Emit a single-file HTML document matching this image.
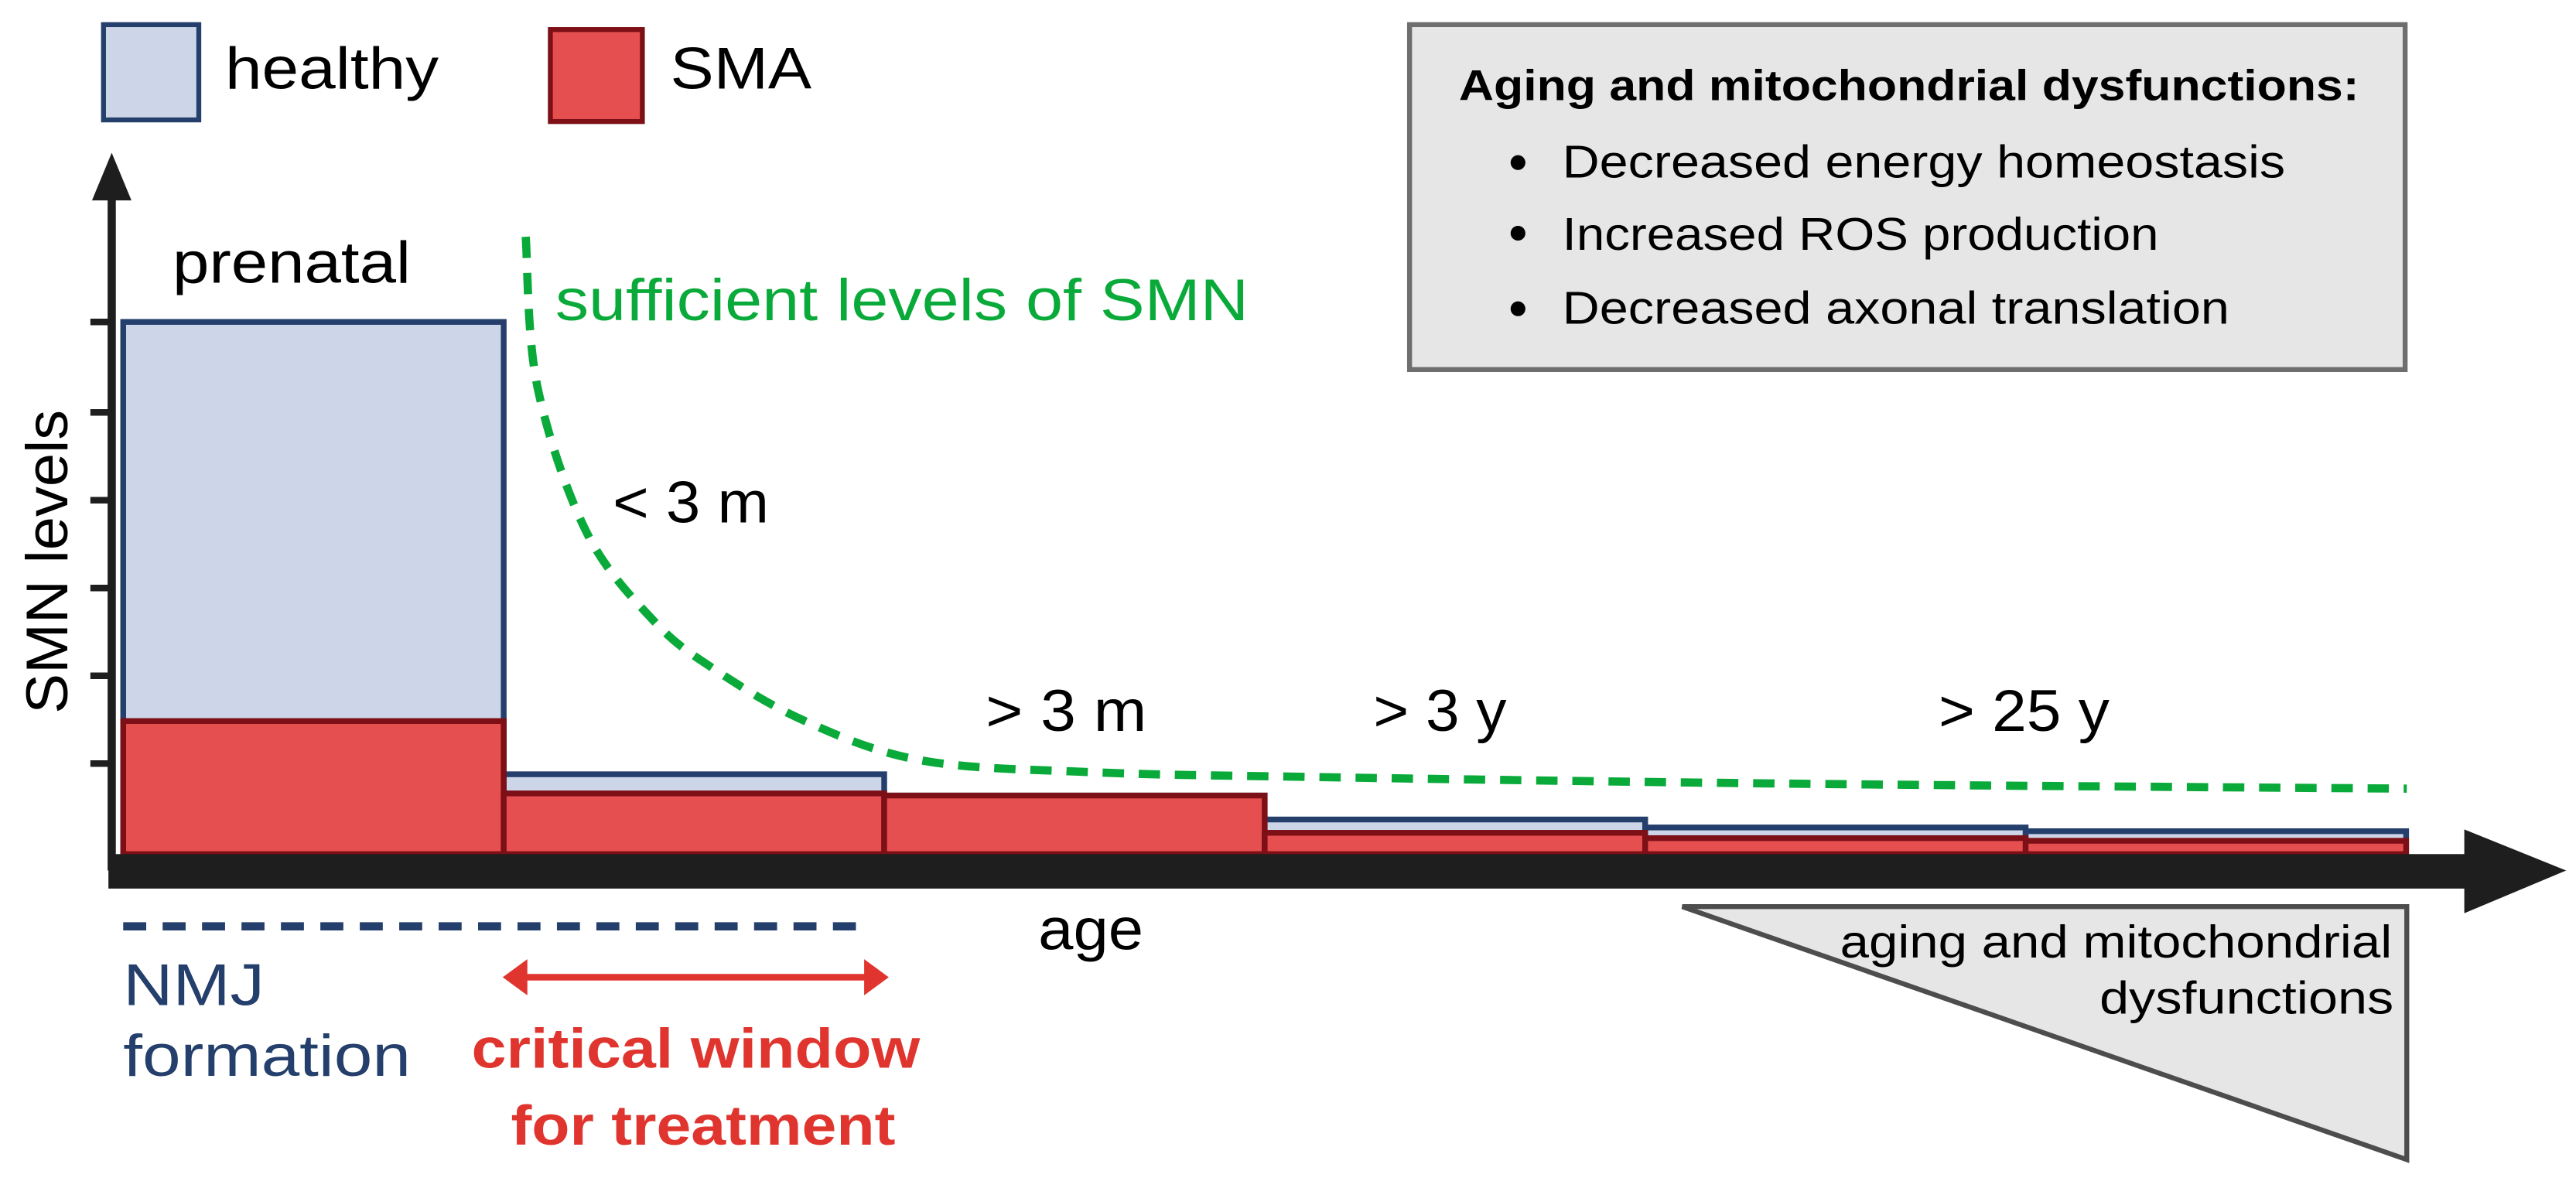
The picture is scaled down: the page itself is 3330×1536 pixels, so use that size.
<!DOCTYPE html>
<html><head><meta charset="utf-8"><style>
html,body{margin:0;padding:0;background:#fff;}
svg{display:block;font-family:"Liberation Sans",sans-serif;}
</style></head><body>
<svg id="chart" width="3330" height="1536" viewBox="0 0 1568 723.3" preserveAspectRatio="none" xmlns="http://www.w3.org/2000/svg">
<g id="legend">
  <rect x="63" y="15" width="58" height="58" fill="#cdd6e8" stroke="#243f6b" stroke-width="3"/>
  <text x="137" y="54" font-size="36" textLength="130" lengthAdjust="spacingAndGlyphs">healthy</text>
  <rect x="335" y="18" width="56" height="56" fill="#e64f4f" stroke="#7d0f16" stroke-width="3"/>
  <text x="408" y="54" font-size="36" textLength="86" lengthAdjust="spacingAndGlyphs">SMA</text>
</g>
<g id="infobox">
  <rect x="858" y="15" width="606" height="210" fill="#e6e6e6" stroke="#6e6e6e" stroke-width="3"/>
  <text x="888" y="61" font-size="26" font-weight="bold" textLength="548" lengthAdjust="spacingAndGlyphs">Aging and mitochondrial dysfunctions:</text>
  <circle cx="924" cy="99" r="4.5" fill="#000"/><circle cx="924" cy="142" r="4.5" fill="#000"/><circle cx="924" cy="188" r="4.5" fill="#000"/>
  <text x="951" y="108" font-size="28" textLength="440" lengthAdjust="spacingAndGlyphs">Decreased energy homeostasis</text>
  <text x="951" y="152" font-size="28" textLength="363" lengthAdjust="spacingAndGlyphs">Increased ROS production</text>
  <text x="951" y="197" font-size="28" textLength="406" lengthAdjust="spacingAndGlyphs">Decreased axonal translation</text>
</g>
<g id="bars"></g>
<g id="axes">
  <line x1="68" y1="118" x2="68" y2="530" stroke="#1e1e1e" stroke-width="5"/>
  <polygon points="68,93 56,122 80,122" fill="#1e1e1e"/>
  <g id="ticks"></g>
  <rect x="66" y="520" width="1440" height="21" fill="#1e1e1e"/>
  <polygon points="1500,505 1562,530 1500,556" fill="#1e1e1e"/>
  <text transform="translate(41,342) rotate(-90)" text-anchor="middle" font-size="36" textLength="185" lengthAdjust="spacingAndGlyphs">SMN levels</text>
  <text x="632" y="578" font-size="36" textLength="64" lengthAdjust="spacingAndGlyphs">age</text>
</g>
<path id="curve" fill="none" stroke="#0aaa3a" stroke-width="5" stroke-dasharray="13,9"/>
<g id="labels">
  <text x="105" y="172" font-size="36" textLength="145" lengthAdjust="spacingAndGlyphs">prenatal</text>
  <text x="338" y="195" font-size="36" fill="#0aaa3a" textLength="422" lengthAdjust="spacingAndGlyphs">sufficient levels of SMN</text>
  <text x="373" y="318" font-size="36" textLength="95" lengthAdjust="spacingAndGlyphs">&lt; 3 m</text>
  <text x="600" y="445" font-size="36" textLength="98" lengthAdjust="spacingAndGlyphs">&gt; 3 m</text>
  <text x="836" y="445" font-size="36" textLength="81" lengthAdjust="spacingAndGlyphs">&gt; 3 y</text>
  <text x="1180" y="445" font-size="36" textLength="104" lengthAdjust="spacingAndGlyphs">&gt; 25 y</text>
  <line x1="75" y1="564" x2="525" y2="564" stroke="#243f6b" stroke-width="5" stroke-dasharray="14,10"/>
  <text x="75" y="612" font-size="36" fill="#243f6b" textLength="86" lengthAdjust="spacingAndGlyphs">NMJ</text>
  <text x="75" y="655" font-size="36" fill="#243f6b" textLength="175" lengthAdjust="spacingAndGlyphs">formation</text>
  <line x1="318" y1="595" x2="530" y2="595" stroke="#e0352f" stroke-width="4"/>
  <polygon points="306,595 321,584 321,606" fill="#e0352f"/>
  <polygon points="541,595 526,584 526,606" fill="#e0352f"/>
  <text x="287" y="650" font-size="34" font-weight="bold" fill="#e0352f" textLength="273" lengthAdjust="spacingAndGlyphs">critical window</text>
  <text x="311" y="697" font-size="34" font-weight="bold" fill="#e0352f" textLength="234" lengthAdjust="spacingAndGlyphs">for treatment</text>
  <polygon points="1024,552 1465,552 1465,706" fill="#e6e6e6" stroke="#4d4d4d" stroke-width="3"/>
  <text x="1120" y="583" font-size="28" textLength="336" lengthAdjust="spacingAndGlyphs">aging and mitochondrial</text>
  <text x="1278" y="617" font-size="28" textLength="179" lengthAdjust="spacingAndGlyphs">dysfunctions</text>
</g>
</svg>
<script>
const categories = ["prenatal", "<3m", ">3m", ">3y", ">25y-a", ">25y-b"];
const healthy = [100, 15, 11, 6.5, 5, 4.3];
const sma = [25, 11.4, 11, 4, 3, 2.5];
const tickValues = [17, 33.5, 50, 66.5, 83, 100];
const curveX = [320, 327, 357, 398, 434, 490, 561, 664, 796, 1100, 1465];
const curveY = [116, 88, 60.5, 43.8, 34.9, 25, 17.6, 15.4, 14.5, 13.2, 12.3];
const NS = "http://www.w3.org/2000/svg";
const x0 = 75, bw = 231.6, yBase = 520, yTop = 196;
function xs(i){ return x0 + i*bw; }
function ys(v){ return yBase - (yBase - yTop)*v/100; }
const bars = document.getElementById('bars');
categories.forEach((c,i)=>{
  const h = document.createElementNS(NS,'rect');
  h.setAttribute('x', xs(i)); h.setAttribute('width', bw);
  h.setAttribute('y', ys(healthy[i])); h.setAttribute('height', yBase-ys(healthy[i]));
  h.setAttribute('fill','#cdd6e8'); h.setAttribute('stroke','#243f6b'); h.setAttribute('stroke-width','3.5');
  
  
  bars.appendChild(h);
});
categories.forEach((c,i)=>{
  const s = document.createElementNS(NS,'rect');
  s.setAttribute('x', xs(i)); s.setAttribute('width', bw);
  s.setAttribute('y', ys(sma[i])); s.setAttribute('height', yBase-ys(sma[i]));
  s.setAttribute('fill','#e64f4f'); s.setAttribute('stroke','#7d0f16'); s.setAttribute('stroke-width','3.5');
  
  
  bars.appendChild(s);
});
const ticks = document.getElementById('ticks');
tickValues.forEach((v,i)=>{
  const t = document.createElementNS(NS,'line');
  t.setAttribute('x1',55); t.setAttribute('x2',70);
  t.setAttribute('y1',ys(v)); t.setAttribute('y2',ys(v));
  t.setAttribute('stroke','#1e1e1e'); t.setAttribute('stroke-width','4');
  
  
  ticks.appendChild(t);
});
const pts = curveX.map((x,i)=>[x, ys(curveY[i])]);
let d2 = 'M'+pts[0][0]+','+pts[0][1];
for(let i=0;i<pts.length-1;i++){
  const p0=pts[Math.max(i-1,0)], p1=pts[i], p2=pts[i+1], p3=pts[Math.min(i+2,pts.length-1)];
  const c1=[p1[0]+(p2[0]-p0[0])/6, p1[1]+(p2[1]-p0[1])/6];
  const c2=[p2[0]-(p3[0]-p1[0])/6, p2[1]-(p3[1]-p1[1])/6];
  d2 += ' C'+c1[0]+','+c1[1]+' '+c2[0]+','+c2[1]+' '+p2[0]+','+p2[1];
}
document.getElementById('curve').setAttribute('d', d2);
</script>
</body></html>
